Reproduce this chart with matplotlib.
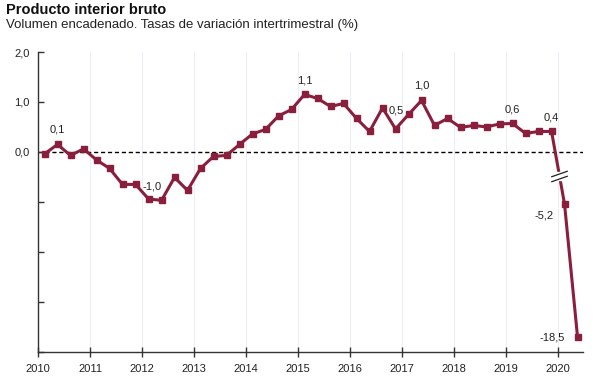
import numpy as np
import matplotlib
matplotlib.use("Agg")
import matplotlib.pyplot as plt
from matplotlib.path import Path

plt.rcParams['font.family'] = ['Liberation Sans', 'DejaVu Sans']

# PIB, tasa intertrimestral (%), 2010T1 - 2020T2
YEARS = list(range(2010, 2021))
VALUES = [-0.04, 0.15, -0.07, 0.06,
          -0.16, -0.33, -0.65, -0.65,
          -0.94, -0.97, -0.51, -0.77,
          -0.33, -0.09, -0.07, 0.15,
          0.36, 0.45, 0.72, 0.85,
          1.15, 1.07, 0.91, 0.97,
          0.67, 0.41, 0.88, 0.46,
          0.75, 1.03, 0.53, 0.67,
          0.49, 0.53, 0.50, 0.56,
          0.57, 0.37, 0.41, 0.41,
          -5.2, -18.5]
LABELS = {1: "0,1", 8: "-1,0", 20: "1,1", 27: "0,5", 29: "1,0",
          36: "0,6", 39: "0,4", 40: "-5,2", 41: "-18,5"}
LABEL_OFFSETS = {1: (0, 15), 8: (4, 12), 20: (0, 14), 27: (1, 18), 29: (0, 15),
                 36: (0, 14), 39: (0, 14), 40: (-20, -11), 41: (-25, 0)}

COLOR = '#8a1f3d'
EPS = 0.001
LOW = 0.2


# escala partida: tramo normal hasta -1, corte, y tramo comprimido por debajo de -5
def forward(v):
    v = np.asarray(v, dtype=float)
    mid = -1 + (v + 1) * EPS
    low = -1 - 4 * EPS + (v + 5) * LOW
    return np.where(v >= -1, v, np.where(v >= -5, mid, low))


def inverse(y):
    y = np.asarray(y, dtype=float)
    mid = -1 + (y + 1) / EPS
    low = -5 + (y + 1 + 4 * EPS) / LOW
    return np.where(y >= -1, y, np.where(y >= -1 - 4 * EPS, mid, low))


x = np.array([2010 + i / 4 + 0.125 for i in range(len(VALUES))])
y = np.array(VALUES)

fig = plt.figure(figsize=(6.06, 3.83), dpi=100)
ax = fig.add_axes([38 / 606, 1 - 352 / 383, 545 / 606, 300 / 383])
ax.set_yscale('function', functions=(forward, inverse))
ax.set_ylim(-20, 2)
ax.set_xlim(2010, 2020.48)

for yr in YEARS[1:]:
    ax.axvline(yr, color='#e6ebf0', lw=0.6, zorder=0)
ax.axhline(0, color='black', lw=1, ls=(0, (3, 2)), zorder=1)

ax.plot(x, y, color=COLOR, lw=2.2, marker='s', ms=5, zorder=3)

# marca de corte
xc = 2019.875 + 0.25 * 0.6
yc = -0.48
ax.plot([xc], [yc], marker='s', ms=6, color='white', mec='white', zorder=4)
slash = Path([(-1, -0.65), (1, 0.05), (-1, -0.05), (1, 0.65)],
             [Path.MOVETO, Path.LINETO, Path.MOVETO, Path.LINETO])
ax.plot([xc], [yc], marker=slash, ms=12, mfc='none', mec='#222222', mew=0.9, zorder=5)

for i, txt in LABELS.items():
    ax.annotate(txt, (x[i], y[i]), xytext=LABEL_OFFSETS[i], textcoords='offset pixels',
                ha='center', va='center', fontsize=8, color='#222222', zorder=6)

ax.set_yticks([2, 1, 0, -1, -10, -15, -20])
ax.set_yticklabels(['2,0', '1,0', '0,0', '', '', '', ''])
ax.set_xticks(YEARS)
ax.set_xticklabels([str(yr) for yr in YEARS])
ax.tick_params(axis='y', direction='in', length=4, width=1, color='#333333',
               labelsize=8, labelcolor='#222222', pad=6)
ax.tick_params(axis='x', direction='inout', length=7, width=1, color='#333333',
               labelsize=8, labelcolor='#222222', pad=5)
for s in ['top', 'right']:
    ax.spines[s].set_visible(False)
for s in ['left', 'bottom']:
    ax.spines[s].set_color('#333333')
    ax.spines[s].set_linewidth(1)

fig.text(6 / 606, 1 - 10 / 383, 'Producto interior bruto', fontsize=10.5,
         fontweight='bold', va='center', ha='left', color='#111111')
fig.text(6 / 606, 1 - 25 / 383, 'Volumen encadenado. Tasas de variación intertrimestral (%)',
         fontsize=9.5, va='center', ha='left', color='#222222')

fig.savefig('out.png', dpi=100)
